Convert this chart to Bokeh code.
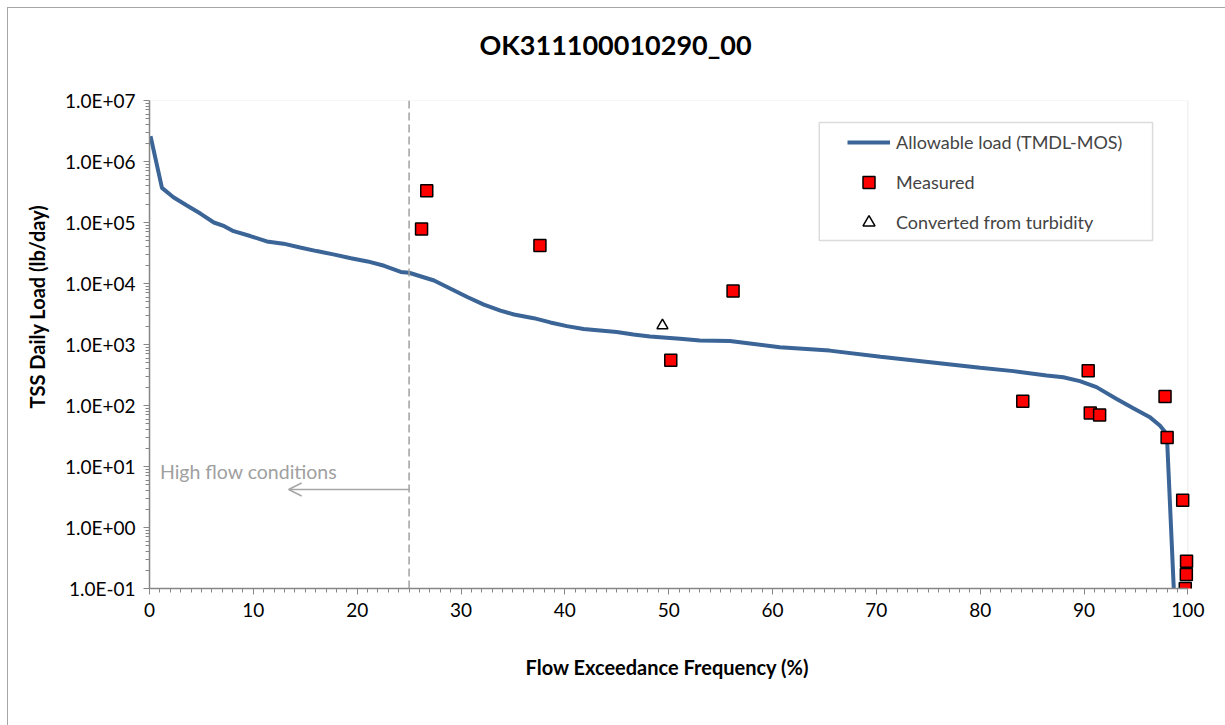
from bokeh.plotting import figure
from bokeh.models import (Range1d, Span, Arrow, OpenHead, Label, Legend, LegendItem,
                          FixedTicker, SingleIntervalTicker, CustomJSTickFormatter,
                          BoxAnnotation, Title, LinearAxis)
from bokeh.embed import file_html
from bokeh.resources import INLINE

# Load duration curve: allowable load (TMDL minus margin of safety)
flow_pct = [0.1, 1.2, 2.3, 3.6, 4.9, 6.2, 7.2, 8.1, 9.7, 11.3, 12.9, 14.5, 16.1, 17.7,
            19.4, 21.0, 22.6, 24.2, 25.0, 27.4, 29.0, 30.6, 32.2, 33.8, 35.1, 37.0,
            38.6, 40.2, 41.8, 43.4, 45.0, 46.6, 48.2, 49.8, 51.1, 53.0, 55.9, 60.7,
            65.5, 70.4, 75.2, 80.0, 83.2, 86.4, 88.0, 89.6, 91.2, 93.1, 94.7, 96.3,
            97.3, 97.9, 98.0, 98.7]
allowable_load = [2.6e6, 3.7e5, 2.6e5, 1.9e5, 1.4e5, 1.0e5, 8.7e4, 7.2e4, 6.0e4, 4.9e4,
                  4.5e4, 3.9e4, 3.4e4, 3.0e4, 2.6e4, 2.3e4, 1.95e4, 1.55e4, 1.5e4,
                  1.12e4, 8.2e3, 6.0e3, 4.5e3, 3.6e3, 3.1e3, 2.7e3, 2.3e3, 2.0e3,
                  1.8e3, 1.7e3, 1.6e3, 1.46e3, 1.35e3, 1.29e3, 1.24e3, 1.16e3, 1.14e3,
                  904, 794, 631, 513, 415, 366, 310, 291, 251, 200, 129, 91, 65, 47,
                  35, 27, 0.06]

# Measured TSS loads
measured_pct = [26.2, 26.7, 37.6, 50.2, 56.2, 84.1, 90.4, 90.6, 91.5, 97.8, 98.0,
                99.5, 99.85, 99.87, 99.75]
measured_load = [7.8e4, 3.3e5, 4.2e4, 550, 7.5e3, 117, 370, 75, 70, 140, 30,
                 2.8, 0.17, 0.28, 0.1]

# Loads converted from turbidity
turbidity_pct = [49.4]
turbidity_load = [2050]

y_ticks = [1e-1, 1e0, 1e1, 1e2, 1e3, 1e4, 1e5, 1e6, 1e7]

FONT = "Lato"
AXIS_GRAY = "#868686"
BORDER_GRAY = "#a6a6a6"

p = figure(width=1225, height=725, y_axis_type="log",
           x_range=Range1d(0, 101.6), y_range=Range1d(0.1, 1e7),
           output_backend="svg", toolbar_location=None,
           min_border_left=149, min_border_right=21,
           min_border_top=100, min_border_bottom=137,
           title="OK311100010290_00")

# chart-area border along the left and top edges, painted behind the canvas
p.border_fill_alpha = 0
p.styles = {
    "background-color": "white",
    "background-image": f"linear-gradient({BORDER_GRAY}, {BORDER_GRAY}), "
                        f"linear-gradient({BORDER_GRAY}, {BORDER_GRAY})",
    "background-size": "1px 100%, 100% 1px",
    "background-position": "7px 7px, 7px 7px",
    "background-repeat": "no-repeat",
}
p.background_fill_color = "white"
p.outline_line_color = None
p.xgrid.visible = False
p.ygrid.visible = False

p.title.align = "left"
p.title.offset = 330
p.title.standoff = 10
p.title.text_font = FONT
p.title.text_font_size = "27px"
p.title.text_font_style = "bold"
p.title.text_color = "black"

# x axis
p.xaxis.ticker = SingleIntervalTicker(interval=10, num_minor_ticks=10)
p.xaxis.bounds = (0, 100)

# y axis
minor = [k * t for t in y_ticks[:-1] for k in range(2, 10)]
p.yaxis.ticker = FixedTicker(ticks=y_ticks, minor_ticks=minor)
p.yaxis.formatter = CustomJSTickFormatter(code="""
    const e = Math.round(Math.log10(tick));
    const a = Math.abs(e);
    return '1.0E' + (e < 0 ? '-' : '+') + (a < 10 ? '0' : '') + a;
""")

for ax in (p.xaxis, p.yaxis):
    ax.axis_line_color = AXIS_GRAY
    ax.axis_line_width = 1.5
    ax.major_tick_line_color = AXIS_GRAY
    ax.minor_tick_line_color = AXIS_GRAY
    ax.major_tick_in = 0
    ax.major_tick_out = 6
    ax.minor_tick_in = 0
    ax.minor_tick_out = 4
    ax.major_label_text_font = FONT
    ax.major_label_text_font_size = "19px"
    ax.major_label_text_color = "black"
    ax.major_label_standoff = 8

# blank axis above the plot area: keeps the chart title clear of the frame
spacer = LinearAxis(ticker=FixedTicker(ticks=[50], minor_ticks=[]),
                    formatter=CustomJSTickFormatter(code="return ''"),
                    axis_line_color=None, major_tick_line_color=None,
                    minor_tick_line_color=None, major_tick_in=0, major_tick_out=35,
                    minor_tick_in=0, minor_tick_out=0, major_label_standoff=0,
                    major_label_text_font_size="1px")
p.add_layout(spacer, "above")

# axis titles, placed along the plot area like the chart's own titles
p.add_layout(Title(text="TSS Daily Load (lb/day)", align="left", offset=180,
                   standoff=26, text_font=FONT, text_font_size="20px",
                   text_font_style="bold", text_color="black"), "left")
p.add_layout(Title(text="Flow Exceedance Frequency (%)", align="left", offset=376,
                   standoff=66, text_font=FONT, text_font_size="20px",
                   text_font_style="bold", text_color="black"), "below")

# plot-area border (top and right edges)
p.add_layout(BoxAnnotation(left=0, right=100, top=1e7, bottom=0.1,
                           fill_alpha=0, line_color="#c8c8c8", line_width=1.2,
                           level="underlay"))

# high-flow boundary
p.add_layout(Span(location=25, dimension="height", line_color="#a0a0a0",
                  line_dash="8 4", line_width=1.5))
p.add_layout(Arrow(end=OpenHead(size=13, line_color="#a6a6a6", line_width=1.5),
                   x_start=25, y_start=4.2, x_end=13.4, y_end=4.2,
                   line_color="#a6a6a6", line_width=1.5))
p.add_layout(Label(x=1.0, y=8.4, text="High flow conditions", text_font=FONT,
                   text_font_size="19.5px", text_color="#a0a0a0",
                   text_baseline="alphabetic"))

r_line = p.line(flow_pct, allowable_load, line_color="#3b6497", line_width=4)
r_meas = p.scatter(measured_pct, measured_load, marker="square", size=12,
                   fill_color="#ff0000", line_color="black", line_width=1.5)
r_turb = p.scatter(turbidity_pct, turbidity_load, marker="triangle", size=11,
                   fill_color="white", line_color="black", line_width=1.5)

# legend frame
p.add_layout(BoxAnnotation(left=64.5, right=96.6, top=4.36e6, bottom=5.07e4,
                           fill_color="white", fill_alpha=1.0,
                           line_color="#8c8c8c", line_width=1.5, level="annotation"))

legend = Legend(items=[
    LegendItem(label="Allowable load (TMDL-MOS)", renderers=[r_line]),
    LegendItem(label="Measured", renderers=[r_meas]),
    LegendItem(label="Converted from turbidity", renderers=[r_turb]),
], location=(698, 351), padding=0, spacing=10, glyph_width=43, glyph_height=30,
   label_height=30, label_standoff=6, label_text_font=FONT,
   label_text_font_size="18px", border_line_alpha=0, background_fill_alpha=0,
   margin=0)
p.add_layout(legend)

open("out.html", "w").write(file_html(p, INLINE))
